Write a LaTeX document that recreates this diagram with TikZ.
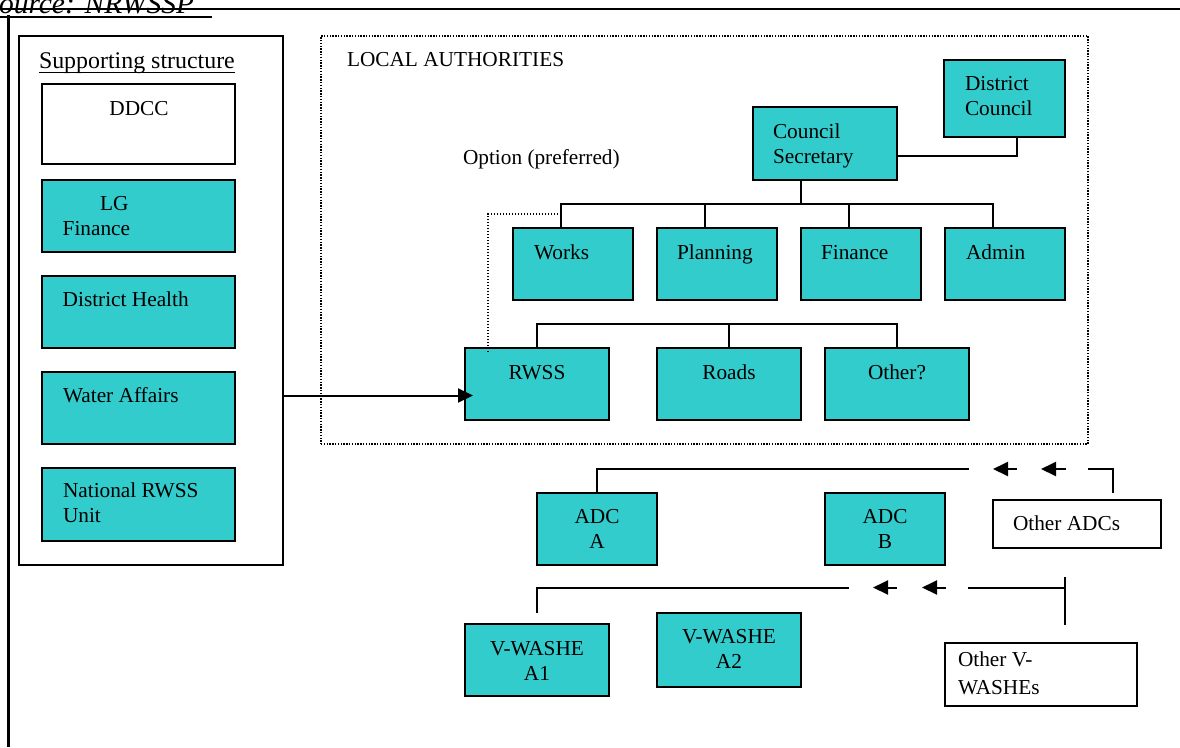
\documentclass[tikz,border=0pt]{standalone}
\usepackage{fontspec}
\setmainfont{Liberation Serif}
\usetikzlibrary{arrows.meta,calc}
\definecolor{teal1}{RGB}{51,204,204}
\begin{document}
\begin{tikzpicture}[x=1pt,y=-1pt,
  every node/.style={inner sep=0pt,outer sep=0pt},
  tealbox/.style={draw,line width=2.2pt,fill=teal1,rectangle},
  whitebox/.style={draw,line width=2.2pt,fill=white,rectangle},
  frame/.style={draw,line width=1.4pt,rectangle},
  dotframe/.style={draw,line width=1.4pt,dash pattern=on 1.4pt off 1.4pt,rectangle},
  txt/.style={font=\fontsize{21.3}{25}\selectfont,anchor=base west},
  ctxt/.style={font=\fontsize{21.3}{25}\selectfont,anchor=base},
  conn/.style={line width=2pt},
  rule/.style={line width=2.4pt},
  dotconn/.style={line width=1.4pt,dash pattern=on 1.4pt off 1.6pt},
  tip/.style={line width=2pt,-{Triangle[length=15pt,width=14pt]}}]
\useasboundingbox (0,0) rectangle (1180,747);

% page rules and source line
\node[font=\fontsize{29.5}{30}\selectfont\itshape,anchor=base west] (src) at (-1,13) {ource: NRWSSP};
\coordinate (ruleL) at (0,9);
\coordinate (ruleR) at (1180,9);
\draw[rule] (ruleL) -- (ruleR);
\coordinate (ulL) at (0,17.3);
\coordinate (ulR) at (212,17.3);
\draw[line width=2pt] (ulL) -- (ulR);
\coordinate (vT) at (8.3,15);
\coordinate (vB) at (8.3,747);
\draw[rule] (vT) -- (vB);

% supporting structure
\node[frame,minimum width=264pt,minimum height=529pt] (sup) at (151,300.5) {};
\node[font=\fontsize{23.9}{28}\selectfont,anchor=base west] (sstxt) at (39,68) {Supporting structure};
\draw[line width=1.4pt] ([yshift=-4.5pt]sstxt.base west) -- ([yshift=-4.5pt]sstxt.base east);
\node[whitebox,minimum width=193pt,minimum height=80pt] (ddcc) at (138.5,124) {};
\node[ctxt] (ddcct) at (139,115) {DDCC};
\node[tealbox,minimum width=193pt,minimum height=72pt] (lgf) at (138.5,216) {};
\node[txt] (lgft1) at (100,210) {LG};
\node[txt] (lgft2) at (62.7,235) {Finance};
\node[tealbox,minimum width=193pt,minimum height=72pt] (dh) at (138.5,312) {};
\node[txt] (dht) at (62.7,306.7) {District Health};
\node[tealbox,minimum width=193pt,minimum height=72pt] (wa) at (138.5,408) {};
\node[txt] (wat) at (63,402.7) {Water Affairs};
\node[tealbox,minimum width=193pt,minimum height=73pt] (nat) at (138.5,504.5) {};
\node[txt] (natt1) at (63,497.7) {National RWSS};
\node[txt] (natt2) at (63,522.3) {Unit};

% local authorities
\node[dotframe,minimum width=767pt,minimum height=408pt] (la) at (704.5,240) {};
\node[txt] (lat) at (347,66.7) {LOCAL AUTHORITIES};
\node[txt] (opt) at (463,164) {Option (preferred)};

\node[tealbox,minimum width=121pt,minimum height=77pt] (dc) at (1004.5,98.5) {};
\node[txt] (dct1) at (965,90) {District};
\node[txt] (dct2) at (965,115) {Council};
\node[tealbox,minimum width=144pt,minimum height=73pt] (cs) at (825,143.5) {};
\node[txt] (cst1) at (773,138) {Council};
\node[txt] (cst2) at (773,163) {Secretary};

\node[tealbox,minimum width=120pt,minimum height=72pt] (works) at (573,264) {};
\node[txt] (workst) at (534,259) {Works};
\node[tealbox,minimum width=120pt,minimum height=72pt] (plan) at (717,264) {};
\node[txt] (plant) at (677,259) {Planning};
\node[tealbox,minimum width=120pt,minimum height=72pt] (fin) at (861,264) {};
\node[txt] (fint) at (821,259) {Finance};
\node[tealbox,minimum width=120pt,minimum height=72pt] (adm) at (1005,264) {};
\node[txt] (admt) at (966,259) {Admin};

\node[tealbox,minimum width=144pt,minimum height=72pt] (rwss) at (537,384) {};
\node[ctxt] (rwsst) at (537,379) {RWSS};
\node[tealbox,minimum width=144pt,minimum height=72pt] (roads) at (729,384) {};
\node[ctxt] (roadst) at (729,379) {Roads};
\node[tealbox,minimum width=144pt,minimum height=72pt] (oth) at (897,384) {};
\node[ctxt] (otht) at (897,379) {Other?};

% council tree connectors
\coordinate (bus1) at (0,204);
\coordinate (bus2) at (0,324);
\draw[conn] ([yshift=-12.5pt]cs.east) -| ([xshift=12.5pt]dc.south);
\draw[conn] ([xshift=-24pt]cs.south) -- ([xshift=-24pt]cs.south |- bus1);
\draw[conn] ([xshift=-12pt]works.north) -- ([xshift=-12pt]works.north |- bus1)
  -| ([xshift=-12pt]adm.north);
\draw[conn] ([xshift=-12pt]plan.north) -- ([xshift=-12pt]plan.north |- bus1);
\draw[conn] ([xshift=-12pt]fin.north) -- ([xshift=-12pt]fin.north |- bus1);
\draw[conn] (rwss.north) -- (rwss.north |- bus2) -| (oth.north);
\draw[conn] (roads.north) -- (roads.north |- bus2);
\draw[dotconn] ([xshift=-15pt,yshift=14pt]works.north) -| ([xshift=-49pt,yshift=-5pt]rwss.north);

% supporting structure to RWSS
\coordinate (arrowy) at (0,395.5);
\draw[tip] (sup.east |- arrowy) -- ([xshift=8pt]rwss.west |- arrowy);

% area development committees
\node[tealbox,minimum width=120pt,minimum height=72pt] (adca) at (597,529) {};
\node[ctxt] (adcat1) at (597,523) {ADC};
\node[ctxt] (adcat2) at (597,548) {A};
\node[tealbox,minimum width=120pt,minimum height=72pt] (adcb) at (885,529) {};
\node[ctxt] (adcbt1) at (885,523) {ADC};
\node[ctxt] (adcbt2) at (885,548) {B};
\node[whitebox,minimum width=168pt,minimum height=48pt] (oadc) at (1077,524) {};
\node[txt] (oadct) at (1013,530.7) {Other ADCs};

\coordinate (r1end) at (969,469);
\coordinate (r1a1h) at (993,469);
\coordinate (r1a1t) at (1017,469);
\coordinate (r1a2h) at (1041,469);
\coordinate (r1a2t) at (1066,469);
\coordinate (r1s) at (1088,469);
\draw[conn] (adca.north) |- (r1end);
\draw[tip] (r1a1t) -- (r1a1h);
\draw[tip] (r1a2t) -- (r1a2h);
\draw[conn] (r1s) -| ([xshift=36pt,yshift=7pt]oadc.north);

% village committees
\node[tealbox,minimum width=144pt,minimum height=72pt] (vwa1) at (537,660) {};
\node[ctxt] (vwa1t1) at (537,655) {V-WASHE};
\node[ctxt] (vwa1t2) at (537,680) {A1};
\node[tealbox,minimum width=144pt,minimum height=74pt] (vwa2) at (729,650) {};
\node[ctxt] (vwa2t1) at (729,643) {V-WASHE};
\node[ctxt] (vwa2t2) at (729,668) {A2};
\node[whitebox,minimum width=192pt,minimum height=63pt] (ovw) at (1041,674.5) {};
\node[txt] (ovwt1) at (958,666) {Other V-};
\node[txt] (ovwt2) at (958,694) {WASHEs};

\coordinate (r2end) at (849,587.5);
\coordinate (r2a1h) at (873,587.5);
\coordinate (r2a1t) at (897,587.5);
\coordinate (r2a2h) at (922,587.5);
\coordinate (r2a2t) at (946,587.5);
\coordinate (r2s) at (968,587.5);
\coordinate (r2e) at (1065,587.5);
\coordinate (tickT) at (1065,577);
\coordinate (tickB) at (1065,625);
\draw[conn] ([yshift=11pt]vwa1.north) |- (r2end);
\draw[tip] (r2a1t) -- (r2a1h);
\draw[tip] (r2a2t) -- (r2a2h);
\draw[conn] (r2s) -- (r2e);
\draw[conn] (tickT) -- (tickB);
\end{tikzpicture}
\end{document}
